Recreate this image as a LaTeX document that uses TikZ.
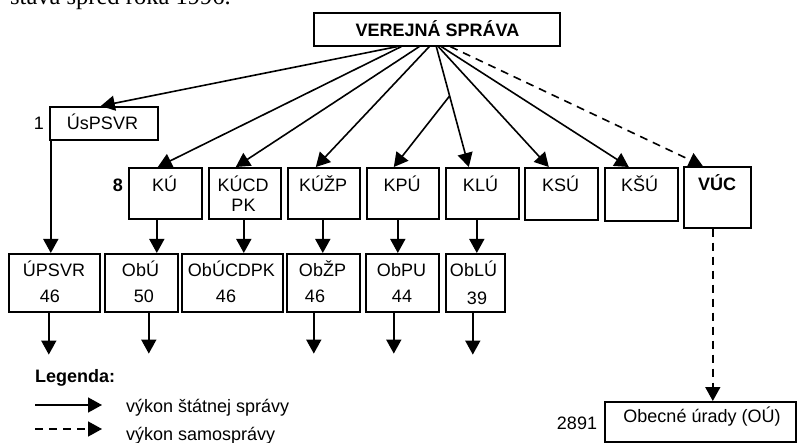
\documentclass[tikz,border=0pt]{standalone}
\usepackage{fontspec}
\setmainfont{Liberation Sans}
\newfontfamily\capserif{Liberation Serif}
\usetikzlibrary{arrows.meta,calc}
\begin{document}
\begin{tikzpicture}[x=1pt,y=-1pt,
  box/.style={draw, line width=1.6pt, inner sep=0pt, anchor=north west},
  lbl/.style={inner sep=0pt, font=\fontsize{18}{20}\selectfont, anchor=base},
  blbl/.style={lbl, font=\fontsize{18}{20}\selectfont\bfseries},
  arr/.style={line width=1.6pt, -{Triangle[length=14pt,width=15pt]}},
  darr/.style={arr, dash pattern=on 8pt off 6pt}]
\useasboundingbox (0,0) rectangle (797,443);
\clip (0,0) rectangle (797,443);

% clipped caption at the top
\node[anchor=base west, inner sep=0pt, font=\capserif\fontsize{24.5}{26}\selectfont] (cap) at (10,5) {stava spred roka 1996.};

% top box
\node[box, minimum width=246pt, minimum height=33pt] (vs) at (313,12) {};
\node[blbl] (vst) at (437.5,37) {VEREJNÁ SPRÁVA};

% UsPSVR
\node[box, minimum width=108pt, minimum height=33pt] (usp) at (49,106) {};
\node[lbl] (uspt) at (102.5,130) {ÚsPSVR};
\node[lbl] (n1) at (39,129.5) {1};

% row 2
\node[box, minimum width=73pt, minimum height=51pt] (ku) at (128,167) {};
\node[box, minimum width=72pt, minimum height=51pt] (kucdpk) at (208,167) {};
\node[box, minimum width=72pt, minimum height=51pt] (kuzp) at (287,167) {};
\node[box, minimum width=72pt, minimum height=51pt] (kpu) at (366,167) {};
\node[box, minimum width=73pt, minimum height=51pt] (klu) at (445,167) {};
\node[box, minimum width=73pt, minimum height=52pt] (ksu) at (524,167) {};
\node[box, minimum width=73pt, minimum height=53pt] (ksh) at (604,167) {};
\node[box, minimum width=67pt, minimum height=61pt] (vuc) at (683,166) {};
\node[blbl] (n8) at (118,192) {8};
\node[lbl] (kut) at (164.5,192) {KÚ};
\node[lbl] (kucdpkt1) at (243,192) {KÚCD};
\node[lbl] (kucdpkt2) at (243.5,212) {PK};
\node[lbl] (kuzpt) at (323,192) {KÚŽP};
\node[lbl] (kput) at (402,192) {KPÚ};
\node[lbl] (klut) at (480.5,192) {KLÚ};
\node[lbl] (ksut) at (560.5,192) {KSÚ};
\node[lbl] (ksht) at (639.5,192) {KŠÚ};
\node[blbl] (vuct) at (717,191) {VÚC};

% row 3
\node[box, minimum width=91pt, minimum height=58pt] (upsvr) at (8,253) {};
\node[box, minimum width=73pt, minimum height=58pt] (obu) at (104,253) {};
\node[box, minimum width=101pt, minimum height=58pt] (obucdpk) at (181,253) {};
\node[box, minimum width=73pt, minimum height=58pt] (obzp) at (286,253) {};
\node[box, minimum width=73pt, minimum height=58pt] (obpu) at (365,253) {};
\node[box, minimum width=59pt, minimum height=58pt] (oblu) at (445,253) {};
\node[lbl] (upsvrt) at (54,277) {ÚPSVR};
\node[lbl] (upsvrn) at (50,303) {46};
\node[lbl] (obut) at (140.5,277) {ObÚ};
\node[lbl] (obun) at (144,303) {50};
\node[lbl] (obucdpkt) at (231.5,277) {ObÚCDPK};
\node[lbl] (obucdpkn) at (226,303) {46};
\node[lbl] (obzpt) at (322.5,277) {ObŽP};
\node[lbl] (obzpn) at (315,302) {46};
\node[lbl] (obput) at (401.5,277) {ObPU};
\node[lbl] (obpun) at (402,302) {44};
\node[lbl] (oblut) at (473.5,277) {ObLÚ};
\node[lbl] (oblun) at (477,305) {39};

% obecne urady
\node[box, minimum width=191pt, minimum height=40pt] (ou) at (604,401) {};
\node[lbl] (out) at (702,422) {Obecné úrady (OÚ)};
\node[lbl] (n2891) at (577,429) {2891};

% fan from VEREJNA SPRAVA
\draw[arr] ([xshift=-39.5pt]vs.south) -- ([xshift=-3pt]usp.north);
\draw[arr] ([xshift=-35.5pt]vs.south) -- ([xshift=-7.5pt]ku.north);
\draw[arr] ([xshift=-17.5pt]vs.south) -- ([xshift=-9pt]kucdpk.north);
\draw[arr] ([xshift=-7.5pt]vs.south) -- ([xshift=-8pt]kuzp.north);
\coordinate (kluA) at ([xshift=-0.5pt]vs.south);
\coordinate (kluB) at ([xshift=-13.5pt]klu.north);
\draw[arr] (kluA) -- (kluB);
\draw[arr] ($(kluA)!0.41!(kluB)$) -- ([xshift=-9pt]kpu.north);
\draw[arr] ([xshift=1.5pt]vs.south) -- ([xshift=-12.5pt]ksu.north);
\draw[arr] ([xshift=4.5pt]vs.south) -- ([xshift=-12.5pt]ksh.north);
\draw[darr] ([xshift=13.5pt]vs.south) -- ([xshift=-14.5pt]vuc.north);

% vertical connectors
\coordinate (v0) at ([xshift=-53pt]usp.south);
\draw[arr] (v0) -- (v0 |- upsvr.north);
\coordinate (v1) at ([xshift=-8.5pt]ku.south);
\draw[arr] (v1) -- (v1 |- obu.north);
\coordinate (v2) at ([xshift=-1pt]kucdpk.south);
\draw[arr] (v2) -- (v2 |- obucdpk.north);
\coordinate (v3) at ([xshift=-1pt]kuzp.south);
\draw[arr] (v3) -- (v3 |- obzp.north);
\coordinate (v4) at ([xshift=-5pt]kpu.south);
\draw[arr] (v4) -- (v4 |- obpu.north);
\coordinate (v5) at ([xshift=-5.5pt]klu.south);
\draw[arr] (v5) -- (v5 |- oblu.north);
\coordinate (v6) at ([xshift=-4.5pt]vuc.south);
\draw[darr] (v6) -- (v6 |- ou.north);

% downward arrows from row 3
\coordinate (d1) at ([xshift=-5.5pt]upsvr.south);
\draw[arr] (d1) -- ++(0,42);
\coordinate (d2) at ([xshift=7.5pt]obu.south);
\draw[arr] (d2) -- ++(0,41);
\coordinate (d3) at ([xshift=-9.5pt]obzp.south);
\draw[arr] (d3) -- ++(0,41);
\coordinate (d4) at ([xshift=-8.5pt]obpu.south);
\draw[arr] (d4) -- ++(0,41);
\coordinate (d5) at ([xshift=-2.5pt]oblu.south);
\draw[arr] (d5) -- ++(0,42);

% legend
\node[blbl, anchor=base west] (leg) at (35,382) {Legenda:};
\coordinate (l1a) at (35,405);
\coordinate (l1b) at (102,405);
\draw[arr] (l1a) -- (l1b);
\node[lbl, anchor=base west] (leg1) at (126,412) {výkon štátnej správy};
\coordinate (l2a) at (35,429);
\coordinate (l2b) at (102,429);
\draw[darr] (l2a) -- (l2b);
\node[lbl, anchor=base west] (leg2) at (126,440) {výkon samosprávy};
\end{tikzpicture}
\end{document}
